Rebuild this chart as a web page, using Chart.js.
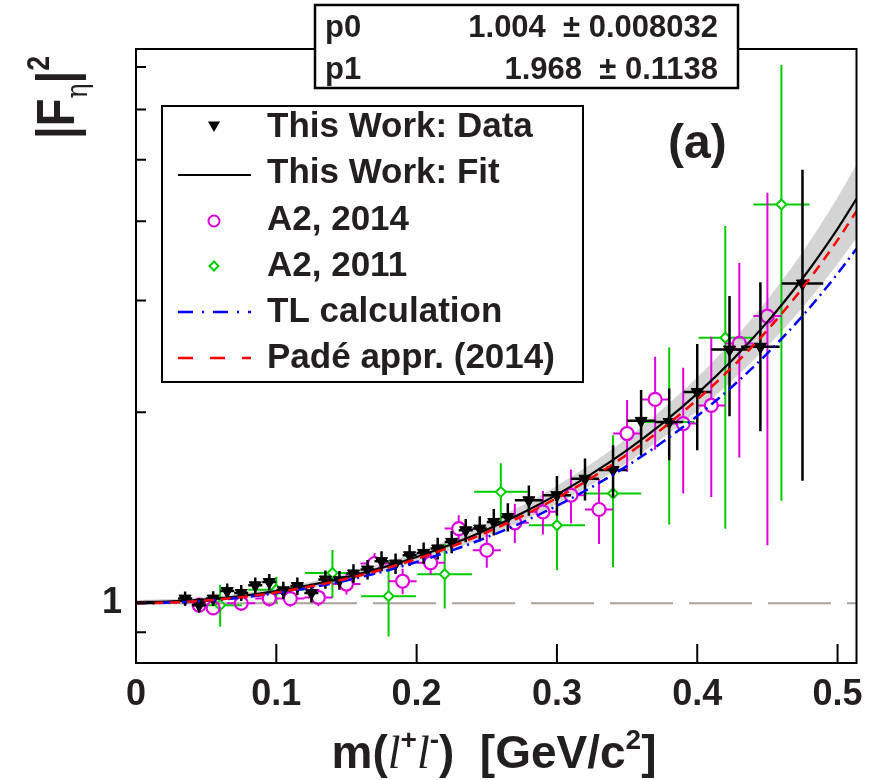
<!DOCTYPE html>
<html>
<head>
<meta charset="utf-8">
<script src="https://cdn.jsdelivr.net/npm/chart.js@4.4.1/dist/chart.umd.min.js"></script>
<style>
  html, body { margin: 0; padding: 0; background: #fff; }
  #wrap { width: 873px; height: 780px; }
</style>
</head>
<body>
<div id="wrap"><canvas id="c" width="873" height="780"></canvas></div>
<script>
// --- curves ---
const curveX = [0, 0.025, 0.05, 0.075, 0.1, 0.125, 0.15, 0.175, 0.2, 0.225, 0.25, 0.275, 0.3, 0.325, 0.35, 0.375, 0.4, 0.425, 0.45, 0.475, 0.5, 0.5135];
const fitY   = [1.004, 1.0065, 1.014, 1.0266, 1.0447, 1.0687, 1.0992, 1.1369, 1.1829, 1.2385, 1.3054, 1.3858, 1.4827, 1.6001, 1.7432, 1.9193, 2.1389, 2.4168, 2.7752, 3.2481, 3.8905, 4.338];
const bandHi = [1.012, 1.015, 1.023, 1.036, 1.056, 1.081, 1.114, 1.154, 1.204, 1.264, 1.337, 1.425, 1.532, 1.661, 1.821, 2.020, 2.270, 2.590, 3.010, 3.574, 4.358, 4.914];
const bandLo = [0.996, 0.998, 1.005, 1.017, 1.034, 1.056, 1.085, 1.119, 1.162, 1.213, 1.274, 1.347, 1.434, 1.539, 1.665, 1.819, 2.008, 2.243, 2.540, 2.922, 3.424, 3.762];
const tlY    = [1.0, 1.0023, 1.009, 1.0205, 1.037, 1.0587, 1.0862, 1.1201, 1.1612, 1.2106, 1.2696, 1.340, 1.424, 1.5246, 1.6458, 1.7927, 1.9726, 2.1956, 2.4761, 2.8353, 3.3058, 3.62];
const padeY  = [1.0, 1.0024, 1.0097, 1.0221, 1.0397, 1.0632, 1.0928, 1.1296, 1.1743, 1.2283, 1.2932, 1.371, 1.4646, 1.5777, 1.7151, 1.8838, 2.0931, 2.3568, 2.694, 3.1377, 3.734, 4.146];
const refX = [0, 0.5135];
const refY = [1, 1];

// --- This Work: Data ---
const thisX    = [0.035, 0.045, 0.055, 0.065, 0.075, 0.085, 0.095, 0.105, 0.115, 0.125, 0.135, 0.145, 0.155, 0.165, 0.175, 0.185, 0.195, 0.205, 0.215, 0.225, 0.235, 0.245, 0.255, 0.265, 0.28, 0.30, 0.32, 0.34, 0.36, 0.38, 0.40, 0.423, 0.445, 0.475];
const thisY    = [1.017, 0.993, 1.017, 1.045, 1.038, 1.067, 1.080, 1.048, 1.064, 1.038, 1.090, 1.087, 1.114, 1.130, 1.165, 1.155, 1.190, 1.200, 1.220, 1.249, 1.303, 1.311, 1.343, 1.367, 1.453, 1.480, 1.571, 1.621, 1.938, 1.93, 2.152, 2.51, 2.536, 3.19];
const thisXErr = [0.005, 0.005, 0.005, 0.005, 0.005, 0.005, 0.005, 0.005, 0.005, 0.005, 0.005, 0.005, 0.005, 0.005, 0.005, 0.005, 0.005, 0.005, 0.005, 0.005, 0.005, 0.005, 0.005, 0.005, 0.01, 0.01, 0.01, 0.01, 0.01, 0.01, 0.01, 0.013, 0.0137, 0.0148];
const thisYErr = [0.026, 0.026, 0.027, 0.029, 0.03, 0.031, 0.032, 0.033, 0.034, 0.035, 0.036, 0.037, 0.038, 0.04, 0.042, 0.043, 0.045, 0.046, 0.048, 0.05, 0.055, 0.06, 0.065, 0.07, 0.08, 0.107, 0.12, 0.153, 0.23, 0.25, 0.41, 0.54, 0.67, 1.63];

// --- A2, 2014 ---
const a14X    = [0.045, 0.055, 0.075, 0.095, 0.11, 0.13, 0.15, 0.17, 0.19, 0.21, 0.23, 0.25, 0.27, 0.29, 0.31, 0.33, 0.35, 0.37, 0.39, 0.41, 0.43, 0.45];
const a14Y    = [0.993, 0.983, 1.0, 1.017, 1.017, 1.021, 1.072, 1.155, 1.083, 1.158, 1.311, 1.212, 1.339, 1.393, 1.480, 1.405, 1.851, 2.095, 1.919, 2.05, 2.567, 2.834];
const a14XErr = [0.005, 0.005, 0.01, 0.01, 0.01, 0.01, 0.01, 0.01, 0.01, 0.01, 0.01, 0.01, 0.01, 0.01, 0.01, 0.01, 0.01, 0.01, 0.01, 0.01, 0.01, 0.01];
const a14YErr = [0.025, 0.025, 0.028, 0.03, 0.03, 0.032, 0.04, 0.045, 0.05, 0.048, 0.065, 0.075, 0.095, 0.11, 0.145, 0.165, 0.24, 0.35, 0.43, 0.58, 0.87, 1.6];

// --- A2, 2011 ---
const a11X    = [0.06, 0.10, 0.14, 0.18, 0.22, 0.26, 0.30, 0.34, 0.38, 0.42, 0.46];
const a11Y    = [0.993, 1.05, 1.116, 1.026, 1.111, 1.498, 1.327, 1.489, 1.93, 2.62, 4.25];
const a11XErr = [0.0155, 0.02, 0.0195, 0.0195, 0.0195, 0.019, 0.02, 0.02, 0.018, 0.019, 0.02];
const a11YErr = [0.075, 0.05, 0.097, 0.14, 0.13, 0.163, 0.2, 0.35, 0.6, 1.31, 2.8];

// axis ticks
const xTicks = [0, 0.1, 0.2, 0.3, 0.4, 0.5];
const yMajor = [1];
const yMinor = [0.9, 2, 3, 4, 5, 6, 7];

const legendLabels = ['This Work: Data', 'This Work: Fit', 'A2, 2014', 'A2, 2011', 'TL calculation', 'Padé appr. (2014)'];
const statNames = ['p0', 'p1'];
const statVals = ['1.004  \u00b1 0.008032', '1.968  \u00b1 0.1138'];

const FONT = '"Liberation Sans", Arial, Helvetica, sans-serif';
const INK = '#231f20';

const pts = (xs, ys) => xs.map((v, i) => ({ x: v, y: ys[i] }));

// error bars drawn right before each dataset's markers
const errorBars = {
    id: 'errorBars',
    beforeDatasetDraw(chart, args) {
        const ds = chart.data.datasets[args.index];
        if (!ds.yErr) return;
        const xs = chart.scales.x, ys = chart.scales.y, ctx = chart.ctx, a = chart.chartArea;
        const gap = ds.errGap || 0;
        ctx.save();
        ctx.beginPath();
        ctx.rect(a.left, a.top, a.right - a.left, a.bottom - a.top);
        ctx.clip();
        ctx.strokeStyle = ds.borderColor;
        ctx.lineWidth = ds.errWidth || 2;
        ctx.beginPath();
        ds.data.forEach((p, i) => {
            const cx = xs.getPixelForValue(p.x), cy = ys.getPixelForValue(p.y);
            const x0 = xs.getPixelForValue(p.x - ds.xErr[i]);
            const x1 = xs.getPixelForValue(p.x + ds.xErr[i]);
            const lo = Math.max(p.y - ds.yErr[i], 0.3);
            const y0 = ys.getPixelForValue(p.y + ds.yErr[i]);
            const y1 = ys.getPixelForValue(lo);
            if (x0 < cx - gap) { ctx.moveTo(x0, cy); ctx.lineTo(cx - gap, cy); }
            if (x1 > cx + gap) { ctx.moveTo(cx + gap, cy); ctx.lineTo(x1, cy); }
            if (y0 < cy - gap) { ctx.moveTo(cx, y0); ctx.lineTo(cx, cy - gap); }
            if (y1 > cy + gap) { ctx.moveTo(cx, cy + gap); ctx.lineTo(cx, y1); }
        });
        ctx.stroke();
        ctx.restore();
    }
};

function drawPieces(ctx, pieces, x, y) {
    let cx = x;
    pieces.forEach(p => {
        ctx.font = p.font;
        ctx.fillText(p.t, cx, y + (p.dy || 0));
        cx += ctx.measureText(p.t).width;
    });
}
function piecesWidth(ctx, pieces) {
    return pieces.reduce((w, p) => { ctx.font = p.font; return w + ctx.measureText(p.t).width; }, 0);
}

const decor = {
    id: 'decor',
    afterDraw(chart) {
        const { ctx, chartArea: a, scales: { x, y } } = chart;
        const H = Chart.helpers;
        ctx.save();

        // frame and inward ticks
        ctx.strokeStyle = '#000';
        ctx.lineWidth = 2;
        ctx.strokeRect(a.left, a.top, a.right - a.left, a.bottom - a.top);
        ctx.beginPath();
        xTicks.forEach(v => { const px = x.getPixelForValue(v); ctx.moveTo(px, a.bottom); ctx.lineTo(px, a.bottom - 19); });
        yMajor.forEach(v => { const py = y.getPixelForValue(v); ctx.moveTo(a.left, py); ctx.lineTo(a.left + 19, py); });
        yMinor.forEach(v => { const py = y.getPixelForValue(v); ctx.moveTo(a.left, py); ctx.lineTo(a.left + 10, py); });
        ctx.stroke();

        ctx.fillStyle = INK;
        ctx.textBaseline = 'alphabetic';

        // x axis title
        const big = 'bold 46px ' + FONT, sup = 'bold 28px ' + FONT, it = 'italic 46px "Liberation Serif", serif';
        const xt = [
            { t: 'm(', font: big }, { t: 'l', font: it }, { t: '+', font: sup, dy: -19 },
            { t: 'l', font: it }, { t: '-', font: sup, dy: -19 }, { t: ')  [GeV/c', font: big },
            { t: '2', font: sup, dy: -19 }, { t: ']', font: big }
        ];
        ctx.textAlign = 'left';
        drawPieces(ctx, xt, 494 - piecesWidth(ctx, xt) / 2, 768);

        // y axis title (rotated, slightly condensed like the original)
        ctx.save();
        ctx.translate(74, 139);
        ctx.rotate(-Math.PI / 2);
        ctx.scale(0.84, 1);
        const yt = [
            { t: '|F', font: 'bold 54px ' + FONT }, { t: '\u03b7', font: '30px "DejaVu Serif", serif', dy: 13 },
            { t: '|', font: 'bold 54px ' + FONT }, { t: '2', font: 'bold 32px ' + FONT, dy: -25 }
        ];
        drawPieces(ctx, yt, 0, 0);
        ctx.restore();

        // (a)
        ctx.font = 'bold 48px ' + FONT;
        ctx.fillText('(a)', 668, 158);

        // legend
        ctx.fillStyle = '#fff';
        ctx.fillRect(162, 106, 421, 276);
        ctx.strokeStyle = '#000';
        ctx.lineWidth = 2;
        ctx.strokeRect(162, 106, 421, 276);
        const rowsMid = [125, 175, 221, 266, 312, 358];
        const rowsBase = [137, 183, 230, 276, 322, 368];
        const ds = chart.data.datasets;
        const mark = (d, cy, r) => {
            ctx.fillStyle = d.backgroundColor;
            ctx.strokeStyle = d.borderColor;
            ctx.lineWidth = 2;
            H.drawPoint(ctx, { pointStyle: d.pointStyle, rotation: d.rotation || 0, radius: r, borderWidth: 2 }, 214, cy);
        };
        mark(ds[3], rowsMid[0], 5);
        mark(ds[4], rowsMid[2], 5.5);
        mark(ds[5], rowsMid[3], 4.5);
        const lineRow = (d, cy) => {
            ctx.strokeStyle = d.borderColor;
            ctx.lineWidth = d.borderWidth;
            ctx.setLineDash(d.borderDash || []);
            ctx.beginPath(); ctx.moveTo(178, cy); ctx.lineTo(251, cy); ctx.stroke();
            ctx.setLineDash([]);
        };
        lineRow(ds[2], rowsMid[1]);
        lineRow({ borderColor: ds[1].borderColor, borderWidth: 2.5, borderDash: [15, 9, 2, 9] }, rowsMid[4]);
        lineRow({ borderColor: ds[0].borderColor, borderWidth: 2.5, borderDash: [15, 17] }, rowsMid[5]);
        ctx.fillStyle = INK;
        ctx.font = 'bold 35px ' + FONT;
        legendLabels.forEach((s, i) => ctx.fillText(s, 267, rowsBase[i]));

        // fit statistics box
        ctx.fillStyle = '#fff';
        ctx.fillRect(315, 5, 423, 83);
        ctx.strokeStyle = '#000';
        ctx.strokeRect(315, 5, 423, 83);
        ctx.fillStyle = INK;
        ctx.font = 'bold 31px ' + FONT;
        statNames.forEach((s, i) => {
            ctx.textAlign = 'left';
            ctx.fillText(s, 325, 37 + i * 42);
            ctx.textAlign = 'right';
            ctx.fillText(statVals[i], 718, 37 + i * 42);
        });
        ctx.restore();
    }
};

const lineBase = { showLine: true, pointRadius: 0, fill: false, cubicInterpolationMode: 'monotone' };

new Chart(document.getElementById('c'), {
    type: 'scatter',
    data: {
        datasets: [
            { ...lineBase, label: 'Padé appr. (2014)', data: pts(curveX, padeY), borderColor: '#ff0000', borderWidth: 2.5, borderDash: [10, 7] },
            { ...lineBase, label: 'TL calculation', data: pts(curveX, tlY), borderColor: '#0000ff', borderWidth: 2.5, borderDash: [11, 5, 2, 5] },
            { ...lineBase, label: 'This Work: Fit', data: pts(curveX, fitY), borderColor: '#000000', borderWidth: 2.2 },
            { label: 'This Work: Data', data: pts(thisX, thisY), pointStyle: 'triangle', rotation: 180, pointRadius: 7,
              backgroundColor: '#000000', borderColor: '#000000', borderWidth: 1, xErr: thisXErr, yErr: thisYErr, errGap: 0, errWidth: 2.5 },
            { label: 'A2, 2014', data: pts(a14X, a14Y), pointStyle: 'circle', pointRadius: 6.5,
              backgroundColor: 'rgba(0,0,0,0)', borderColor: '#dd00dd', borderWidth: 2.2, xErr: a14XErr, yErr: a14YErr, errGap: 6.5 },
            { label: 'A2, 2011', data: pts(a11X, a11Y), pointStyle: 'rectRot', pointRadius: 5,
              backgroundColor: 'rgba(0,0,0,0)', borderColor: '#00cc00', borderWidth: 2, xErr: a11XErr, yErr: a11YErr, errGap: 5 },
            { ...lineBase, label: 'unity', data: pts(refX, refY), borderColor: '#aaa298', borderWidth: 2, borderDash: [63, 16], cubicInterpolationMode: 'default' },
            { ...lineBase, label: 'band', data: pts(curveX, bandHi), borderWidth: 0, borderColor: 'rgba(0,0,0,0)', backgroundColor: '#d4d4d4', fill: '+1' },
            { ...lineBase, label: 'band lo', data: pts(curveX, bandLo), borderWidth: 0, borderColor: 'rgba(0,0,0,0)' }
        ]
    },
    options: {
        responsive: false,
        devicePixelRatio: 1,
        animation: false,
        events: [],
        layout: { padding: { top: 49, right: 16, bottom: 0, left: 0 } },
        plugins: { legend: { display: false }, tooltip: { enabled: false } },
        scales: {
            x: {
                type: 'linear', min: 0, max: 0.5135,
                grid: { display: false, drawTicks: false },
                border: { display: false },
                afterBuildTicks: s => { s.ticks = xTicks.map(v => ({ value: v })); },
                afterFit: s => { s.height = 117; },
                ticks: {
                    autoSkip: false, maxRotation: 0, padding: 10, color: INK,
                    font: { family: FONT, size: 36, weight: 'bold' },
                    callback: v => v === 0 ? '0' : v.toFixed(1)
                }
            },
            y: {
                type: 'logarithmic', min: 0.805, max: 7.47,
                grid: { display: false, drawTicks: false },
                border: { display: false },
                afterBuildTicks: s => { s.ticks = yMinor.concat(yMajor).sort((p, q) => p - q).map(v => ({ value: v })); },
                afterFit: s => { s.width = 136; },
                ticks: {
                    autoSkip: false, padding: 14, color: INK,
                    font: { family: FONT, size: 36, weight: 'bold' },
                    callback: v => v === 1 ? '1' : ''
                }
            }
        }
    },
    plugins: [errorBars, decor]
});
</script>
</body>
</html>
